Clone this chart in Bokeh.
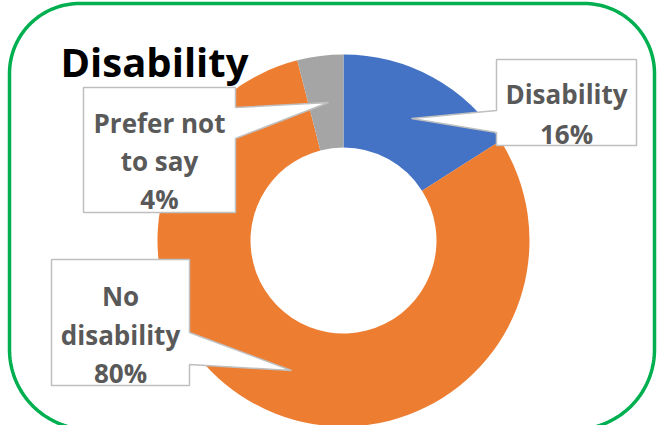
import numpy as np
from bokeh.plotting import figure
from bokeh.models import Range1d, ColumnDataSource
from bokeh.core.properties import value
from bokeh.embed import file_html
from bokeh.resources import INLINE

# ---- data ----
title = "Disability"
categories = ["Disability", "No disability", "Prefer not to say"]
values = [16, 80, 4]
label_lines = [["Disability"], ["No", "disability"], ["Prefer not", "to say"]]
colors = ["#4472C4", "#ED7D31", "#A5A5A5"]

# ---- layout (image pixel coords, y downward) ----
W, H = 657, 425
def Y(yi):
    return 425 - yi

cx, cy = 343, 240
r_in, r_out = 93, 186

callouts = [
    dict(box=(496, 59, 636, 145), ptr=[(496, 132), (411, 118), (496, 110)], side="left",
         tx=566, base=[93, 133]),
    dict(box=(51, 259, 189, 385), ptr=[(189, 332), (291, 370), (189, 364)], side="right",
         tx=120, base=[295, 334, 372]),
    dict(box=(83, 87, 235, 212), ptr=[(235, 107), (328, 102), (235, 138)], side="right",
         tx=159, base=[122, 160, 198]),
]

p = figure(width=W, height=H, output_backend="svg", toolbar_location=None,
           x_range=Range1d(0, 657), y_range=Range1d(0, 425),
           x_axis_location=None, y_axis_location=None,
           min_border=0, min_border_left=0, min_border_right=0,
           min_border_top=0, min_border_bottom=0)
p.grid.visible = False
p.outline_line_color = None
p.background_fill_color = "white"
p.border_fill_color = "white"

# ---- donut ----
total = float(sum(values))
cum = np.cumsum([0] + values)
start = 90 - cum[:-1] / total * 360
end = 90 - cum[1:] / total * 360
src = ColumnDataSource(dict(start=start, end=end, color=colors, cat=categories))
p.annular_wedge(x=cx, y=Y(cy), inner_radius=r_in, outer_radius=r_out,
                start_angle="start", end_angle="end",
                start_angle_units="deg", end_angle_units="deg",
                direction="clock", fill_color="color", line_color=None, source=src)

# ---- callouts ----
for i, c in enumerate(callouts):
    l, t, r, b = c["box"]
    if c["side"] == "left":
        pts = [(l, t), (r, t), (r, b), (l, b)] + c["ptr"]
    else:
        pts = [(l, t), (r, t)] + c["ptr"] + [(r, b), (l, b)]
    xs = [pt[0] for pt in pts]
    ys = [Y(pt[1]) for pt in pts]
    p.patch(xs, ys, fill_color="white", line_color="#BFBFBF", line_width=1.5)
    lines = label_lines[i] + ["%d%%" % values[i]]
    p.text(x=[c["tx"]] * len(lines), y=[Y(bb) for bb in c["base"]], text=lines,
           text_font=value("Open Sans"), text_font_style="bold", text_font_size="26px",
           text_color="#595959", text_align="center", text_baseline="alphabetic")

# ---- title ----
p.text(x=[60], y=[Y(61)], text=[title], text_font=value("Open Sans"),
       text_font_style="bold", text_font_size="40px", text_color="black",
       text_align="left", text_baseline="alphabetic")

# ---- rounded green border ----
bl, bt, br, bb = 9, 3, 654, 429
rt, rb = 70, 80
def arc(xc, yc, rad, a0, a1):
    a = np.radians(np.linspace(a0, a1, 40))
    return list(xc + rad * np.cos(a)), list(yc - rad * np.sin(a))
bx, by = [], []
for (xc, yc, rad, a0, a1) in [(br - rt, bt + rt, rt, 90, 0), (br - rb, bb - rb, rb, 0, -90),
                              (bl + rb, bb - rb, rb, 270, 180), (bl + rt, bt + rt, rt, 180, 90)]:
    ax, ay = arc(xc, yc, rad, a0, a1)
    bx += ax
    by += ay
bx.append(bx[0]); by.append(by[0])
p.line(bx, [Y(v) for v in by], line_color="#00B050", line_width=3.5)

open("out.html", "w").write(file_html(p, INLINE))
